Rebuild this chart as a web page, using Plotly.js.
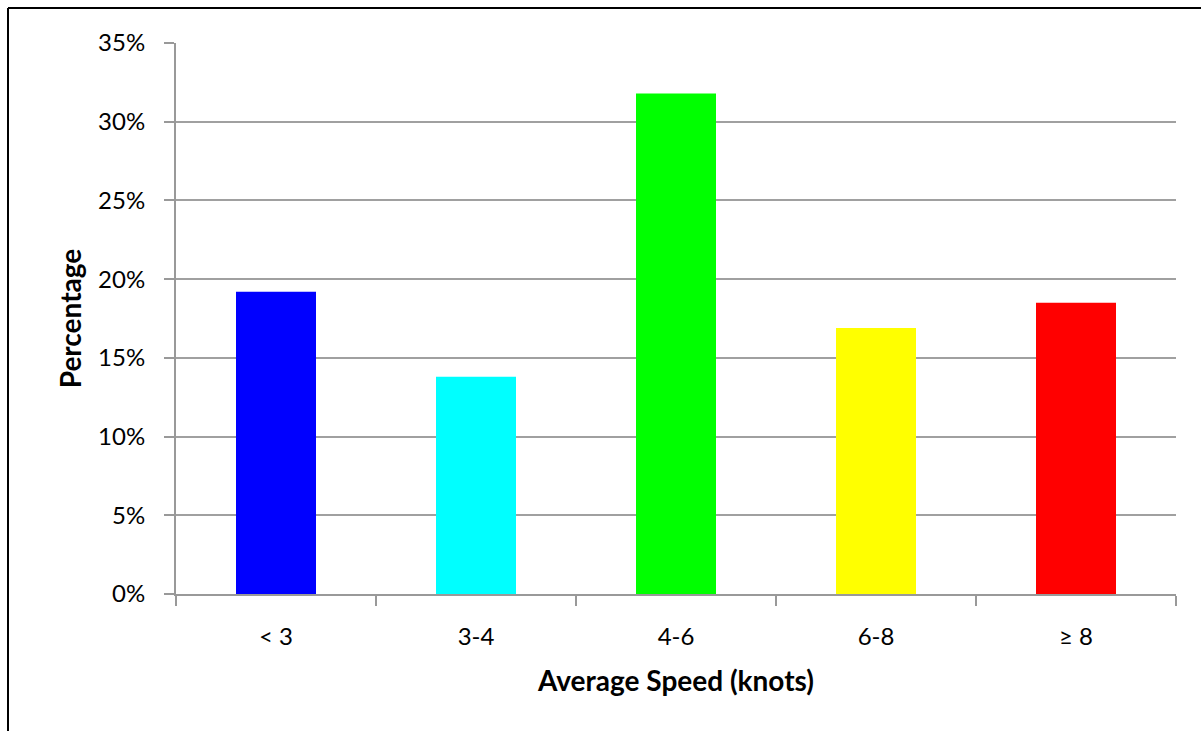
<!DOCTYPE html>
<html>
<head>
<meta charset="utf-8">
<script src="https://cdn.plot.ly/plotly-3.0.1.min.js"></script>
<style>
html,body{margin:0;padding:0;background:#fff;}
#chart{width:1201px;height:731px;}
</style>
</head>
<body>
<div id="chart"></div>
<script>
const categories = ["< 3", "3-4", "4-6", "6-8", "\u2265 8"];
const percentages = [0.192, 0.138, 0.318, 0.169, 0.185];
const barColors = ["#0000ff", "#00ffff", "#00ff00", "#ffff00", "#ff0000"];
const yTitle = "Percentage";
const xTitle = "Average Speed (knots)";

const font = "Lato, 'Open Sans', sans-serif";

const trace = {
  type: "bar",
  x: categories,
  y: percentages,
  marker: {color: barColors, line: {width: 0}},
  hoverinfo: "x+y"
};

const layout = {
  width: 1201,
  height: 731,
  paper_bgcolor: "#ffffff",
  plot_bgcolor: "#ffffff",
  margin: {l: 176, r: 25, t: 43, b: 137, pad: 0},
  bargap: 0.6,
  showlegend: false,
  font: {family: font, color: "#000000", size: 24},
  xaxis: {
    type: "category",
    showgrid: false,
    showline: true,
    linecolor: "#999999",
    linewidth: 2,
    ticks: "outside",
    tickson: "boundaries",
    ticklen: 10,
    tickwidth: 2,
    tickcolor: "#999999",
    tickfont: {family: font, size: 24, color: "#000"},
    ticklabelstandoff: 20,
    title: {text: xTitle, font: {family: font, size: 28, color: "#000", weight: "bold"}, standoff: 23},
    fixedrange: true
  },
  yaxis: {
    range: [0, 0.35],
    dtick: 0.05,
    tick0: 0,
    tickformat: ".0%",
    showgrid: true,
    gridcolor: "#a0a0a0",
    gridwidth: 2,
    zeroline: false,
    showline: true,
    linecolor: "#999999",
    linewidth: 2,
    ticks: "outside",
    ticklen: 10,
    tickwidth: 2,
    tickcolor: "#999999",
    tickfont: {family: font, size: 24, color: "#000"},
    ticklabelstandoff: 14,
    title: {text: yTitle, font: {family: font, size: 28, color: "#000", weight: "bold"}, standoff: 8},
    fixedrange: true
  },
  shapes: [
    {type: "line", xref: "paper", yref: "paper", x0: -0.168, x1: 1.1, y0: 1.0635, y1: 1.0635, line: {color: "#000", width: 2}},
    {type: "line", xref: "paper", yref: "paper", x0: -0.168, x1: -0.168, y0: 1.0635, y1: -0.4, line: {color: "#000", width: 2}}
  ]
};

Plotly.newPlot("chart", [trace], layout, {displayModeBar: false, staticPlot: true});
</script>
</body>
</html>
